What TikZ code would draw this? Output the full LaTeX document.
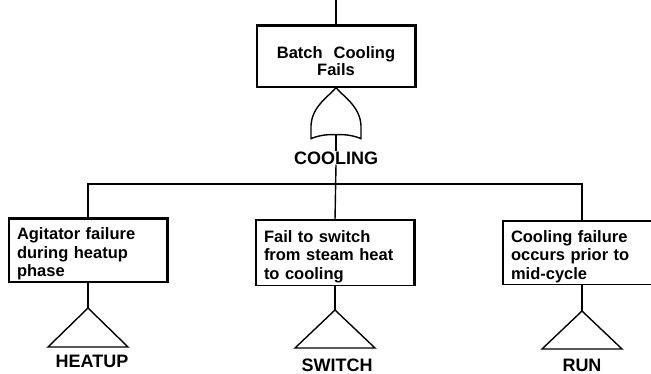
\documentclass[tikz,border=0pt]{standalone}
\usepackage{fontspec}
\setmainfont{Liberation Sans}
\usetikzlibrary{positioning}

\begin{document}
\begin{tikzpicture}[
    x=1pt, y=-1pt,
    evbox/.style={rectangle, draw, line width=1.2pt, minimum width=158pt, minimum height=63pt,
        text width=142pt, align=left, inner sep=0pt, text height=12pt, text depth=33.5pt,
        font=\bfseries\fontsize{16.5}{18.5}\selectfont},
    topbox/.style={evbox, minimum height=61pt, align=center, text height=22pt, text depth=17.2pt,
        font=\bfseries\fontsize{16.5}{17}\selectfont},
    rim/.style={line width=2.6pt},
    lbl/.style={inner sep=0pt, font=\bfseries\fontsize{18}{20}\selectfont},
    wire/.style={line width=1.4pt},
    gate/.style={line width=1.4pt},
    xfer/.style={line width=1.4pt, line join=miter},
]
\useasboundingbox (0,0) rectangle (651,374);
\clip (0,0) rectangle (651,374);

% top event
\coordinate (top) at (336,0);
\node[topbox] (fail) at (336,56.5) {Batch\ \ Cooling\\ Fails};
\draw[rim] (fail.north west) -- (fail.north east) -- (fail.south east);
\draw[wire] (top) -- (fail.north);

% OR gate
\coordinate (g) at (fail.south);
\draw[gate, shift={(g)}] (0,0) .. controls (6,8) and (24,18) .. (25,38) -- (25,51)
    .. controls (15,47) and (8,47) .. (0,47) .. controls (-8,47) and (-15,47) .. (-25,51)
    -- (-25,38) .. controls (-24,18) and (-6,8) .. (0,0) -- cycle;
\coordinate (gb) at (336,135);
\node[lbl] (cool) at (336,158) {COOLING};
\draw[wire] (gb) -- (cool.north);

% basic events
\node[evbox] (heat) at (88,250.5) {Agitator failure\\during heatup\\phase};
\node[evbox, minimum height=65pt] (swit) at (335,253) {Fail to switch\\from steam heat\\to cooling};
\node[evbox] (run) at (582,253) {Cooling failure\\occurs prior to\\mid-cycle};
\draw[rim] (heat.north west) -- (heat.north east) -- (heat.south east);
\draw[rim] (swit.north west) -- (swit.north east) -- (swit.south east);
\draw[rim] (run.north west) -- (run.north east) -- (run.south east);

\coordinate (bus) at (336,184);
\draw[wire] (heat.north) |- (bus) -| (run.north);
\draw[wire] (cool.south) -- (swit.north);

% transfer triangles
\coordinate (t1) at (88,308);
\coordinate (t2) at (335,310);
\coordinate (t3) at (582,311);
\draw[wire] (heat.south) -- (t1);
\draw[wire] (swit.south) -- (t2);
\draw[wire] (run.south) -- (t3);
\draw[xfer] (t1) -- ++(40,39) -- ++(-80,0) -- cycle;
\draw[xfer] (t2) -- ++(40,38) -- ++(-80,0) -- cycle;
\draw[xfer] (t3) -- ++(40,38) -- ++(-80,0) -- cycle;

\node[lbl] (lheat) at (92,361) {HEATUP};
\node[lbl] (lswit) at (337,365) {SWITCH};
\node[lbl] (lrun) at (582,365) {RUN};
\end{tikzpicture}
\end{document}
